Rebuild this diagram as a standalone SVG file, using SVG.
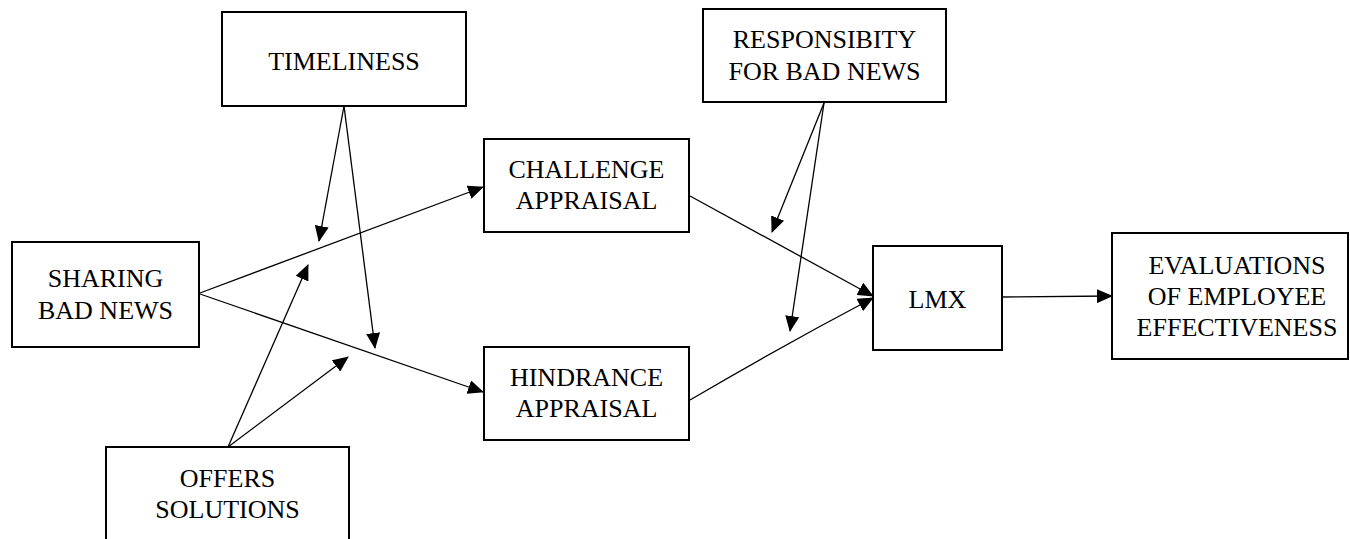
<svg xmlns="http://www.w3.org/2000/svg" width="1350" height="539" viewBox="0 0 1350 539">
<style>
.box{fill:#fff;stroke:#000;stroke-width:2}
.t{font-family:'Liberation Serif','Times New Roman',serif;font-size:26px;fill:#000;text-anchor:middle}
.c{stroke:#000;stroke-width:1.3;fill:none}
</style>
<defs>
<marker id="ah" markerUnits="userSpaceOnUse" markerWidth="16" markerHeight="14" refX="15" refY="7" orient="auto">
<path d="M0,0 L16,7 L0,14 z" fill="#000"/>
</marker>
</defs>
<rect width="1350" height="539" fill="#fff"/>
<g id="connectors">
<line class="c" x1="200" y1="293" x2="483" y2="187" marker-end="url(#ah)"/>
<line class="c" x1="200" y1="294" x2="483" y2="392" marker-end="url(#ah)"/>
<line class="c" x1="344" y1="106" x2="319" y2="241" marker-end="url(#ah)"/>
<line class="c" x1="344" y1="106" x2="375" y2="348" marker-end="url(#ah)"/>
<line class="c" x1="228" y1="447" x2="308" y2="265" marker-end="url(#ah)"/>
<line class="c" x1="228" y1="447" x2="348" y2="357" marker-end="url(#ah)"/>
<line class="c" x1="690" y1="196" x2="873" y2="296" marker-end="url(#ah)"/>
<path class="c" d="M690,400 Q780,347 873,298" marker-end="url(#ah)"/>
<line class="c" x1="824" y1="103" x2="772" y2="232" marker-end="url(#ah)"/>
<line class="c" x1="824" y1="103" x2="790" y2="331" marker-end="url(#ah)"/>
<line class="c" x1="1002" y1="297" x2="1112" y2="296" marker-end="url(#ah)"/>
</g>
<g id="timeliness">
<rect class="box" x="222" y="12" width="244" height="94"/>
<text class="t" x="344" y="70">TIMELINESS</text>
</g>
<g id="responsibility">
<rect class="box" x="703" y="9" width="243" height="93"/>
<text class="t" x="824.5" y="48">RESPONSIBITY</text>
<text class="t" x="824.5" y="80">FOR BAD NEWS</text>
</g>
<g id="sharing">
<rect class="box" x="12" y="242" width="187" height="105"/>
<text class="t" x="105.5" y="287">SHARING</text>
<text class="t" x="105.5" y="319">BAD NEWS</text>
</g>
<g id="challenge">
<rect class="box" x="484" y="139" width="205" height="93"/>
<text class="t" x="586.5" y="178">CHALLENGE</text>
<text class="t" x="586.5" y="209">APPRAISAL</text>
</g>
<g id="hindrance">
<rect class="box" x="484" y="347" width="205" height="93"/>
<text class="t" x="586.5" y="386">HINDRANCE</text>
<text class="t" x="586.5" y="417">APPRAISAL</text>
</g>
<g id="offers">
<rect class="box" x="106" y="447" width="243" height="100"/>
<text class="t" x="227.5" y="487">OFFERS</text>
<text class="t" x="227.5" y="518">SOLUTIONS</text>
</g>
<g id="lmx">
<rect class="box" x="873" y="246" width="129" height="104"/>
<text class="t" x="937.5" y="308">LMX</text>
</g>
<g id="evaluations">
<rect class="box" x="1112" y="233" width="236" height="126"/>
<text class="t" x="1237" y="274">EVALUATIONS</text>
<text class="t" x="1237" y="305">OF EMPLOYEE</text>
<text class="t" x="1237" y="336">EFFECTIVENESS</text>
</g>
</svg>
